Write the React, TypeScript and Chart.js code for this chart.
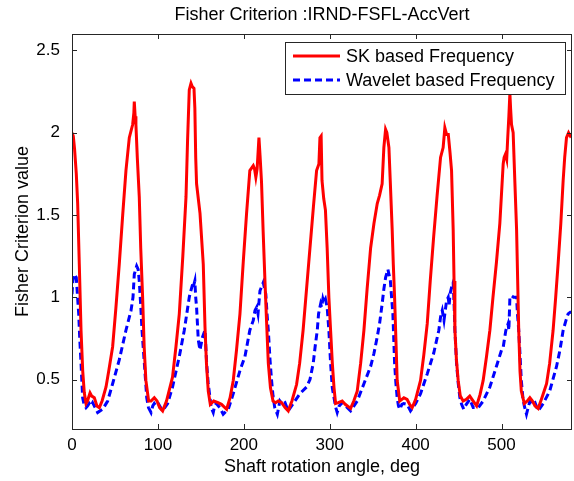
import React, { useEffect, useRef } from 'react';
import { Chart, registerables } from 'chart.js';

Chart.register(...registerables);

const TITLE = 'Fisher Criterion :IRND-FSFL-AccVert';
const X_LABEL = 'Shaft rotation angle, deg';
const Y_LABEL = 'Fisher Criterion value';
const SERIES_NAMES = ['SK based Frequency', 'Wavelet based Frequency'];
const SERIES_COLORS = ['#ff0000', '#0000ff'];
const X_MIN = 0;
const X_MAX = 582;
const Y_MIN = 0.2;
const Y_MAX = 2.6;
const X_TICKS = [0, 100, 200, 300, 400, 500];
const Y_TICKS = [0.5, 1, 1.5, 2, 2.5];

const SK_X = [0, 1.5, 3, 5, 6.6, 8.5, 10.5, 12.5, 14.3, 16.3, 18, 21, 23, 26, 29, 31.8, 35, 39.6, 43, 47.3, 51, 55, 59, 62.8, 66.7, 70.6, 72, 72.5, 73.5, 74.4, 76, 78.3, 80, 82.2, 84, 86, 89.2, 92, 95.8, 99, 102, 105.5, 110, 117, 121, 124.9, 129, 132.7, 134.5, 136.5, 138.5, 140, 142, 143, 144, 145, 149, 152.8, 154.8, 156.5, 158.6, 161, 165, 170, 174, 180, 184, 187.7, 191.5, 195.5, 199.4, 203.2, 207, 211, 212.5, 214, 215.5, 217.6, 219, 220.6, 222.5, 224.6, 226.5, 228.5, 231, 234, 237, 240, 244, 248, 251.7, 256, 261.4, 265, 269, 273, 277, 281, 284.7, 287.4, 288.6, 290, 291, 293, 295, 297, 299, 301, 303, 305, 306.8, 310, 314.5, 318, 324.3, 328, 332, 336, 339.8, 343.5, 347.6, 351.5, 355.3, 358, 361, 363, 365, 366.5, 368.9, 370.5, 372.7, 374, 375.5, 377, 378.5, 381.5, 384, 386.3, 390, 393, 396, 400, 405.7, 409.5, 413.5, 417, 421, 425, 429, 432, 434, 436, 438, 440, 441.8, 443.7, 444.7, 445.7, 447.5, 449.5, 452, 455.3, 459, 463, 467, 471, 475, 478.6, 482.5, 486.4, 490, 494, 498, 501.9, 503, 504.6, 506, 507, 508.5, 509.7, 510.5, 511.6, 513.5, 515.5, 517.5, 520, 521.5, 523, 526.5, 530, 533, 536, 539, 542.6, 547, 552.4, 556, 560, 563, 565.9, 569, 571.7, 573.5, 575.6, 578, 580, 582];
const SK_Y = [2.0, 1.98, 1.9, 1.75, 1.57, 1.2, 0.8, 0.55, 0.42, 0.355, 0.37, 0.42, 0.4, 0.39, 0.34, 0.33, 0.37, 0.455, 0.56, 0.7, 0.93, 1.2, 1.5, 1.77, 1.97, 2.05, 2.12, 2.19, 2.1, 2.05, 1.85, 1.61, 1.3, 1.0, 0.7, 0.495, 0.37, 0.37, 0.39, 0.37, 0.33, 0.31, 0.37, 0.515, 0.7, 0.9, 1.25, 1.61, 1.95, 2.26, 2.3, 2.28, 2.27, 2.15, 1.85, 1.69, 1.51, 1.2, 0.82, 0.6, 0.43, 0.35, 0.37, 0.36, 0.35, 0.32, 0.39, 0.495, 0.68, 0.9, 1.22, 1.51, 1.77, 1.8, 1.78, 1.73, 1.78, 1.97, 1.85, 1.7, 1.4, 1.1, 0.85, 0.6, 0.45, 0.37, 0.36, 0.37, 0.36, 0.33, 0.31, 0.37, 0.47, 0.6, 0.8, 1.05, 1.3, 1.55, 1.77, 1.81, 1.97, 1.98, 1.71, 1.6, 1.53, 1.3, 1.0, 0.8, 0.6, 0.45, 0.355, 0.36, 0.37, 0.35, 0.325, 0.37, 0.43, 0.6, 0.8, 1.05, 1.3, 1.45, 1.57, 1.62, 1.69, 1.91, 2.02, 2.0, 1.91, 1.7, 1.41, 1.2, 1.0, 0.75, 0.495, 0.37, 0.38, 0.39, 0.38, 0.35, 0.33, 0.38, 0.495, 0.65, 0.84, 1.1, 1.37, 1.62, 1.85, 1.91, 2.03, 1.99, 1.99, 1.88, 1.77, 1.41, 1.1, 0.8, 0.62, 0.495, 0.4, 0.37, 0.38, 0.4, 0.37, 0.34, 0.41, 0.495, 0.64, 0.8, 1.0, 1.21, 1.45, 1.81, 1.85, 1.87, 1.84, 1.95, 2.1, 2.24, 2.15, 2.05, 2.0, 1.7, 1.41, 0.8, 0.55, 0.43, 0.355, 0.37, 0.39, 0.37, 0.34, 0.325, 0.39, 0.475, 0.6, 0.8, 1.0, 1.21, 1.45, 1.71, 1.85, 1.97, 2.0, 1.98, 1.99];

const WV_X = [0, 1, 2.7, 5, 6.5, 7.8, 9, 10.5, 12.4, 14, 16.3, 18, 20, 22, 24, 27, 29.9, 35.7, 41.5, 47.3, 55, 62.8, 68.7, 71, 72.5, 75.3, 77, 78.3, 80, 81.5, 84.2, 87, 89, 92, 94, 95.8, 98, 101, 105.5, 111.3, 117, 124.9, 130.7, 136.5, 137.3, 140.4, 141, 143, 144, 145, 147, 149, 152, 154.8, 156.7, 158.5, 160.6, 162, 164.4, 166, 168, 172, 176, 181.9, 187.7, 195.5, 201.3, 207, 211, 213, 215, 216.5, 218.8, 222.6, 225.6, 227, 228.5, 230.5, 232.3, 234, 236, 239, 240.5, 242, 245, 248, 251.7, 257.5, 265.3, 273, 277, 280.8, 283, 285.5, 287, 289.4, 290.5, 292, 293, 295, 297, 299, 301, 303, 305, 307, 308.7, 311, 314.5, 317, 320.5, 324.3, 332, 339.8, 347.6, 351.5, 355.3, 358, 361, 363, 365, 367.7, 370.6, 372, 373.5, 375.5, 377, 378.5, 380, 381.5, 384, 386, 390, 394, 400, 405.7, 413.5, 421, 427, 429, 431, 433, 434, 436, 437.9, 439, 440, 441.8, 443.7, 444.8, 445.7, 447.6, 449.5, 451.5, 453.5, 456, 459, 463, 467, 473, 478.6, 486.4, 494, 500, 502, 505, 507.6, 508.5, 509.7, 511.6, 514, 517.5, 518.5, 520, 521.5, 523, 525, 526.5, 529, 531, 533, 536, 539, 542.6, 548.5, 556, 564, 568, 571.7, 575, 577.5, 580, 582];
const WV_Y = [1.02, 1.1, 1.14, 1.12, 1.0, 0.9, 0.75, 0.6, 0.39, 0.35, 0.33, 0.34, 0.355, 0.34, 0.36, 0.33, 0.3, 0.32, 0.37, 0.475, 0.62, 0.8, 0.92, 1.0, 1.14, 1.19, 1.17, 1.1, 0.95, 0.8, 0.6, 0.39, 0.33, 0.3, 0.34, 0.355, 0.34, 0.35, 0.31, 0.355, 0.455, 0.64, 0.8, 1.0, 1.02, 1.08, 1.06, 1.1, 1.0, 0.94, 0.74, 0.68, 0.76, 0.8, 0.6, 0.48, 0.39, 0.33, 0.3, 0.34, 0.355, 0.33, 0.29, 0.32, 0.415, 0.555, 0.64, 0.8, 0.86, 0.92, 0.94, 0.9, 1.04, 1.09, 1.02, 0.9, 0.8, 0.62, 0.495, 0.4, 0.33, 0.29, 0.33, 0.37, 0.35, 0.36, 0.31, 0.355, 0.415, 0.455, 0.5, 0.6, 0.7, 0.8, 0.9, 0.96, 0.94, 0.99, 0.97, 0.99, 0.94, 0.8, 0.6, 0.45, 0.39, 0.33, 0.3, 0.34, 0.36, 0.35, 0.33, 0.31, 0.37, 0.475, 0.58, 0.66, 0.76, 0.84, 0.96, 1.05, 1.12, 1.17, 1.1, 1.0, 0.9, 0.6, 0.48, 0.39, 0.34, 0.32, 0.35, 0.355, 0.35, 0.31, 0.355, 0.415, 0.535, 0.66, 0.8, 0.88, 0.92, 0.86, 0.9, 0.98, 1.0, 0.95, 1.02, 1.06, 1.09, 0.95, 0.8, 0.6, 0.48, 0.39, 0.35, 0.32, 0.35, 0.38, 0.33, 0.33, 0.37, 0.455, 0.58, 0.68, 0.7, 0.8, 0.84, 0.8, 1.0, 1.01, 1.0, 1.0, 0.9, 0.8, 0.65, 0.495, 0.38, 0.34, 0.29, 0.33, 0.37, 0.35, 0.36, 0.31, 0.355, 0.43, 0.58, 0.68, 0.8, 0.86, 0.9, 0.91, 0.91];

const FONT = "'Liberation Sans', Arial, Helvetica, sans-serif";
const AXIS_COLOR = '#262626';

const toPoints = (xs: number[], ys: number[]) => xs.map((x, i) => ({ x, y: ys[i] }));

const axesBoxPlugin = {
  id: 'axesBox',
  afterDatasetsDraw(chart: any) {
    const { ctx, chartArea: a, scales } = chart;
    const tick = 5;
    ctx.save();
    ctx.strokeStyle = AXIS_COLOR;
    ctx.lineWidth = 1;
    ctx.beginPath();
    X_TICKS.forEach((v) => {
      const px = Math.round(scales.x.getPixelForValue(v)) + 0.5;
      ctx.moveTo(px, a.bottom);
      ctx.lineTo(px, a.bottom - tick);
      ctx.moveTo(px, a.top);
      ctx.lineTo(px, a.top + tick);
    });
    Y_TICKS.forEach((v) => {
      const py = Math.round(scales.y.getPixelForValue(v)) + 0.5;
      ctx.moveTo(a.left, py);
      ctx.lineTo(a.left + tick, py);
      ctx.moveTo(a.right, py);
      ctx.lineTo(a.right - tick, py);
    });
    ctx.stroke();
    ctx.strokeRect(Math.round(a.left) + 0.5, Math.round(a.top) + 0.5, Math.round(a.right - a.left) - 1, Math.round(a.bottom - a.top));
    ctx.restore();
  },
};

const legendBoxPlugin = {
  id: 'legendBox',
  afterDraw(chart: any) {
    const { ctx } = chart;
    const left = 285.5, top = 42.5, right = 565.5, bottom = 94.5;
    const rows = [56, 80];
    ctx.save();
    ctx.fillStyle = '#ffffff';
    ctx.fillRect(left, top, right - left, bottom - top);
    ctx.strokeStyle = AXIS_COLOR;
    ctx.lineWidth = 1;
    ctx.strokeRect(left, top, right - left, bottom - top);
    chart.data.datasets.forEach((ds: any, i: number) => {
      const y = rows[i];
      ctx.beginPath();
      ctx.strokeStyle = ds.borderColor;
      ctx.lineWidth = ds.borderWidth;
      ctx.setLineDash(ds.borderDash || []);
      ctx.moveTo(293, y);
      ctx.lineTo(340, y);
      ctx.stroke();
      ctx.setLineDash([]);
      ctx.fillStyle = '#000000';
      ctx.font = `18px ${FONT}`;
      ctx.textBaseline = 'middle';
      ctx.textAlign = 'left';
      ctx.fillText(ds.label, 346, y + 1);
    });
    ctx.restore();
  },
};

export default function App() {
  const canvasRef = useRef<HTMLCanvasElement | null>(null);

  useEffect(() => {
    document.body.style.margin = '0';
    const canvas = canvasRef.current;
    if (!canvas) return;
    const chart = new Chart(canvas, {
      type: 'line',
      data: {
        datasets: [
          {
            label: SERIES_NAMES[0],
            data: toPoints(SK_X, SK_Y),
            borderColor: SERIES_COLORS[0],
            backgroundColor: SERIES_COLORS[0],
            borderWidth: 3,
            pointRadius: 0,
            tension: 0,
            fill: false,
          },
          {
            label: SERIES_NAMES[1],
            data: toPoints(WV_X, WV_Y),
            borderColor: SERIES_COLORS[1],
            backgroundColor: SERIES_COLORS[1],
            borderWidth: 3,
            borderDash: [7, 4],
            pointRadius: 0,
            tension: 0,
            fill: false,
          },
        ],
      },
      options: {
        responsive: false,
        animation: false,
        devicePixelRatio: 1,
        layout: { padding: { left: 0, right: 2, top: 0, bottom: 0 } },
        plugins: {
          legend: { display: false },
          tooltip: { enabled: false },
          title: {
            display: true,
            text: TITLE,
            fullSize: false,
            color: '#000000',
            font: { family: FONT, size: 18, weight: 'normal', lineHeight: 1 },
            padding: { top: 6, bottom: 10 },
          },
        },
        scales: {
          x: {
            type: 'linear',
            min: X_MIN,
            max: X_MAX,
            grid: { display: false, drawTicks: false },
            border: { display: false },
            afterBuildTicks: (s: any) => {
              s.ticks = X_TICKS.map((v) => ({ value: v }));
            },
            afterFit: (s: any) => {
              s.height = 52;
            },
            ticks: {
              color: '#000000',
              font: { family: FONT, size: 17 },
              padding: 6,
              maxRotation: 0,
              autoSkip: false,
              callback: (v: any) => String(v),
            },
            title: {
              display: true,
              text: X_LABEL,
              color: '#000000',
              font: { family: FONT, size: 18 },
              padding: { top: 0, bottom: 3 },
            },
          },
          y: {
            type: 'linear',
            min: Y_MIN,
            max: Y_MAX,
            grid: { display: false, drawTicks: false },
            border: { display: false },
            afterBuildTicks: (s: any) => {
              s.ticks = Y_TICKS.map((v) => ({ value: v }));
            },
            afterFit: (s: any) => {
              s.width = 72;
            },
            ticks: {
              color: '#000000',
              font: { family: FONT, size: 17 },
              padding: 12,
              autoSkip: false,
              callback: (v: any) => String(v),
            },
            title: {
              display: true,
              text: Y_LABEL,
              color: '#000000',
              font: { family: FONT, size: 18 },
              padding: { top: 12, bottom: 0 },
            },
          },
        },
      },
      plugins: [axesBoxPlugin, legendBoxPlugin],
    });
    return () => chart.destroy();
  }, []);

  return (
    <div style={{ width: 574, height: 481, background: '#ffffff' }}>
      <canvas ref={canvasRef} width={574} height={481} style={{ display: 'block' }} />
    </div>
  );
}
